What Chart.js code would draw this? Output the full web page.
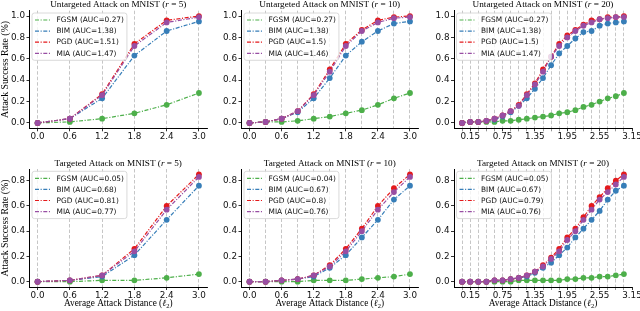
<!DOCTYPE html>
<html>
<head>
<meta charset="utf-8">
<script src="https://cdn.jsdelivr.net/npm/chart.js@4.4.0/dist/chart.umd.min.js"></script>
<style>
  html, body { margin: 0; padding: 0; background: #fff; }
  body { position: relative; width: 640px; height: 311px; overflow: hidden; }
  canvas { position: absolute; }
</style>
</head>
<body>
<canvas id="panel-0"></canvas>
<canvas id="panel-1"></canvas>
<canvas id="panel-2"></canvas>
<canvas id="panel-3"></canvas>
<canvas id="panel-4"></canvas>
<canvas id="panel-5"></canvas>
<script>
// Attack success rate vs. average attack distance on MNIST

const methods = ['FGSM', 'BIM', 'PGD', 'MIA'];
const radii = [5, 10, 20];

// attack distances (x values) for each step count
const distR5 = [0, 0.6, 1.2, 1.8, 2.4, 3.0];
const distR10 = [0, 0.3, 0.6, 0.9, 1.2, 1.5, 1.8, 2.1, 2.4, 2.7, 3.0];
const distR20 = [0, 0.15, 0.3, 0.45, 0.6, 0.75, 0.9, 1.05, 1.2, 1.35, 1.5, 1.65, 1.8,
  1.95, 2.1, 2.25, 2.4, 2.55, 2.7, 2.85, 3.0];

// tick labels
const xTicksR5 = [0, 0.6, 1.2, 1.8, 2.4, 3.0];
const xTicksR10 = [0, 0.6, 1.2, 1.8, 2.4, 3.0];
const xTicksR20 = [0.15, 0.75, 1.35, 1.95, 2.55, 3.15];
const yTicksUntargeted = [0, 0.2, 0.4, 0.6, 0.8, 1.0];
const yTicksTargeted = [0, 0.2, 0.4, 0.6, 0.8];

// success rates, rows in order FGSM, BIM, PGD, MIA
const untargetedR5 = [
  [0, 0.01, 0.04, 0.09, 0.17, 0.28],
  [0, 0.04, 0.23, 0.63, 0.86, 0.95],
  [0, 0.04, 0.27, 0.74, 0.96, 1.0],
  [0, 0.04, 0.26, 0.72, 0.94, 0.99]
];
const untargetedR10 = [
  [0, 0.01, 0.01, 0.02, 0.04, 0.06, 0.09, 0.12, 0.17, 0.23, 0.28],
  [0, 0.01, 0.04, 0.10, 0.23, 0.42, 0.63, 0.76, 0.86, 0.93, 0.95],
  [0, 0.01, 0.04, 0.11, 0.27, 0.50, 0.74, 0.87, 0.96, 0.99, 1.0],
  [0, 0.01, 0.04, 0.11, 0.26, 0.48, 0.72, 0.86, 0.94, 0.98, 0.99]
];
const untargetedR20 = [
  [0, 0.01, 0.01, 0.01, 0.01, 0.02, 0.02, 0.03, 0.04, 0.05, 0.06, 0.07, 0.09, 0.10, 0.12, 0.15, 0.17, 0.20, 0.23, 0.25, 0.28],
  [0, 0.01, 0.01, 0.02, 0.03, 0.06, 0.10, 0.16, 0.23, 0.32, 0.42, 0.54, 0.65, 0.72, 0.79, 0.85, 0.86, 0.91, 0.93, 0.94, 0.95],
  [0, 0.01, 0.01, 0.02, 0.04, 0.07, 0.11, 0.17, 0.27, 0.37, 0.50, 0.62, 0.74, 0.82, 0.87, 0.92, 0.96, 0.97, 0.99, 0.99, 1.0],
  [0, 0.01, 0.01, 0.02, 0.04, 0.07, 0.11, 0.16, 0.26, 0.36, 0.48, 0.62, 0.72, 0.80, 0.86, 0.91, 0.94, 0.97, 0.98, 0.99, 0.99]
];
const targetedR5 = [
  [0, 0.0, 0.01, 0.01, 0.03, 0.06],
  [0, 0.01, 0.04, 0.21, 0.49, 0.76],
  [0, 0.01, 0.05, 0.26, 0.60, 0.85],
  [0, 0.01, 0.05, 0.24, 0.57, 0.83]
];
const targetedR10 = [
  [0, 0, 0, 0, 0.01, 0.01, 0.01, 0.02, 0.03, 0.04, 0.06],
  [0, 0, 0.01, 0.02, 0.04, 0.11, 0.21, 0.35, 0.49, 0.65, 0.76],
  [0, 0, 0.01, 0.02, 0.05, 0.13, 0.26, 0.42, 0.60, 0.74, 0.85],
  [0, 0, 0.01, 0.02, 0.05, 0.12, 0.24, 0.40, 0.57, 0.71, 0.83]
];
const targetedR20 = [
  [0, 0, 0, 0, 0, 0, 0, 0.01, 0.01, 0.01, 0.01, 0.01, 0.01, 0.02, 0.02, 0.03, 0.03, 0.04, 0.04, 0.05, 0.06],
  [0, 0, 0, 0, 0.01, 0.01, 0.02, 0.03, 0.04, 0.07, 0.11, 0.15, 0.21, 0.27, 0.35, 0.42, 0.49, 0.56, 0.65, 0.72, 0.76],
  [0, 0, 0, 0, 0.01, 0.01, 0.02, 0.03, 0.05, 0.08, 0.13, 0.19, 0.26, 0.35, 0.42, 0.51, 0.60, 0.67, 0.74, 0.80, 0.85],
  [0, 0, 0, 0, 0.01, 0.01, 0.02, 0.03, 0.05, 0.08, 0.12, 0.18, 0.24, 0.33, 0.40, 0.49, 0.57, 0.65, 0.71, 0.77, 0.83]
];

// AUC shown in the legends
const untargetedAUC = [[0.27, 1.38, 1.51, 1.47], [0.27, 1.38, 1.5, 1.46], [0.27, 1.38, 1.5, 1.47]];
const targetedAUC = [[0.05, 0.68, 0.81, 0.77], [0.04, 0.67, 0.8, 0.76], [0.05, 0.67, 0.79, 0.76]];

const colors = ['#4daf4a', '#377eb8', '#e41a1c', '#984ea3'];
const SERIF = "'Liberation Serif', 'DejaVu Serif', serif";
const SANS = "'DejaVu Sans', sans-serif";
const DASH_DOT = [4, 1.6, 1.1, 1.6];

// page geometry of the plot areas
const colLeft = [0, 211, 425];
const colWidth = [211, 214, 215];
const areaLeft = [29.5, 241.5, 454];
const areaRight = [207, 418, 632];
const rowTop = [0, 150];
const rowHeight = [150, 161];
const areaTop = [10.7, 169];
const areaBottom = [128.3, 287];

const near = (a, b) => Math.abs(a - b) < 1e-6;

function drawRich(ctx, parts, cx, baseY) {
  let total = 0;
  parts.forEach(p => { ctx.font = p.font; p.w = ctx.measureText(p.t).width; total += p.w; });
  let x = cx - total / 2;
  ctx.textBaseline = 'alphabetic';
  ctx.textAlign = 'left';
  parts.forEach(p => {
    ctx.font = p.font;
    ctx.fillText(p.t, x, baseY + (p.dy || 0));
    x += p.w;
  });
}

// titles, x label and the legend inside the plot
const decorPlugin = {
  id: 'decor',
  afterDraw(chart, args, opts) {
    const ctx = chart.ctx;
    const ca = chart.chartArea;
    const cx = (ca.left + ca.right) / 2;
    ctx.save();
    ctx.fillStyle = '#000';

    const tf = `9.2px ${SERIF}`;
    drawRich(ctx, [
      { t: opts.titleText + ' (', font: tf },
      { t: 'r', font: `italic 9.2px ${SERIF}` },
      { t: ' = ' + opts.radius + ')', font: tf }
    ], cx, opts.titleY);

    if (opts.xTitleY) {
      const xf = `9.3px ${SERIF}`;
      drawRich(ctx, [
        { t: 'Average Attack Distance (', font: xf },
        { t: '\u2113', font: `italic bold 9.3px ${SERIF}` },
        { t: '2', font: `6.5px ${SERIF}`, dy: 1.8 },
        { t: ')', font: xf }
      ], cx, opts.xTitleY);
    }

    // legend box
    ctx.font = `7.4px ${SANS}`;
    const labels = opts.labels;
    const maxW = Math.max(...labels.map(l => ctx.measureText(l).width));
    const bx = ca.left + 2.5, by = ca.top + 2.3;
    const bw = 24.5 + maxW + 3, rowH = 11.1, bh = 14 + rowH * 3;
    ctx.beginPath();
    ctx.roundRect(bx, by, bw, bh, 2.5);
    ctx.fillStyle = 'rgba(255,255,255,0.8)';
    ctx.fill();
    ctx.lineWidth = 0.8;
    ctx.strokeStyle = '#d0d0d0';
    ctx.stroke();
    labels.forEach((l, i) => {
      const y = by + 7 + rowH * i;
      ctx.beginPath();
      ctx.setLineDash(DASH_DOT);
      ctx.strokeStyle = colors[i];
      ctx.lineWidth = 1.2;
      ctx.moveTo(bx + 3, y);
      ctx.lineTo(bx + 18, y);
      ctx.stroke();
      ctx.setLineDash([]);
      ctx.fillStyle = '#111';
      ctx.textBaseline = 'middle';
      ctx.textAlign = 'left';
      ctx.fillText(l, bx + 24.5, y + 0.3);
    });
    ctx.restore();
  }
};

const panels = [
  { row: 0, col: 0, dist: distR5, series: untargetedR5, auc: untargetedAUC[0], xTicks: xTicksR5, yTicks: yTicksUntargeted },
  { row: 0, col: 1, dist: distR10, series: untargetedR10, auc: untargetedAUC[1], xTicks: xTicksR10, yTicks: yTicksUntargeted },
  { row: 0, col: 2, dist: distR20, series: untargetedR20, auc: untargetedAUC[2], xTicks: xTicksR20, yTicks: yTicksUntargeted },
  { row: 1, col: 0, dist: distR5, series: targetedR5, auc: targetedAUC[0], xTicks: xTicksR5, yTicks: yTicksTargeted },
  { row: 1, col: 1, dist: distR10, series: targetedR10, auc: targetedAUC[1], xTicks: xTicksR10, yTicks: yTicksTargeted },
  { row: 1, col: 2, dist: distR20, series: targetedR20, auc: targetedAUC[2], xTicks: xTicksR20, yTicks: yTicksTargeted }
];

panels.forEach((p, idx) => {
  const canvas = document.getElementById('panel-' + idx);
  const w = colWidth[p.col], h = rowHeight[p.row];
  canvas.width = w; canvas.height = h;
  canvas.style.left = colLeft[p.col] + 'px';
  canvas.style.top = rowTop[p.row] + 'px';
  canvas.style.width = w + 'px'; canvas.style.height = h + 'px';

  const yMax = Math.max(...p.series.flat());
  const allX = [...new Set([...p.dist, ...p.xTicks])].sort((a, b) => a - b);
  const isGridX = v => p.dist.some(d => near(d, v));
  const isLabelX = v => p.xTicks.some(d => near(d, v));
  const xDigits = p.col === 2 ? 2 : 1;

  const datasets = p.series.map((vals, i) => ({
    label: `${methods[i]} (AUC=${p.auc[i]})`,
    data: vals.map((v, k) => ({ x: p.dist[k], y: v })),
    borderColor: colors[i],
    backgroundColor: colors[i],
    borderWidth: 1.2,
    borderDash: DASH_DOT,
    pointRadius: 2.9,
    pointBorderWidth: 0,
    pointBackgroundColor: colors[i],
    pointHoverRadius: 2.9,
    tension: 0,
    order: methods.length - i
  }));

  new Chart(canvas, {
    type: 'line',
    data: { datasets },
    plugins: [decorPlugin],
    options: {
      responsive: false,
      animation: false,
      devicePixelRatio: 1,
      layout: {
        padding: {
          top: areaTop[p.row] - rowTop[p.row],
          left: 0,
          right: colLeft[p.col] + w - areaRight[p.col],
          bottom: 0
        }
      },
      plugins: {
        legend: { display: false },
        tooltip: { enabled: false },
        decor: {
          titleText: p.row === 0 ? 'Untargeted Attack on MNIST' : 'Targeted Attack on MNIST',
          radius: radii[p.col],
          titleY: p.row === 0 ? 7 : 15.7,
          xTitleY: p.row === 1 ? 155.7 : null,
          labels: datasets.map(d => d.label)
        }
      },
      scales: {
        x: {
          type: 'linear',
          min: -0.15,
          max: 3.15,
          afterBuildTicks: s => { s.ticks = allX.map(v => ({ value: v })); },
          afterFit: s => {
            s.height = rowTop[p.row] + h - areaBottom[p.row];
            s.paddingLeft = 0; s.paddingRight = 0;
          },
          ticks: {
            autoSkip: false, maxRotation: 0, minRotation: 0, padding: 0.5,
            color: '#111',
            font: { family: SANS, size: 8.8 },
            callback: v => isLabelX(v) ? v.toFixed(xDigits) : ''
          },
          grid: {
            drawOnChartArea: true,
            color: c => (c.tick && isGridX(c.tick.value)) ? '#b8b8b8' : 'rgba(0,0,0,0)',
            lineWidth: 0.8,
            tickLength: 3,
            tickWidth: 0.8,
            tickColor: c => (c.tick && isLabelX(c.tick.value)) ? '#000'
              : (p.col === 2 ? '#777' : 'rgba(0,0,0,0)')
          },
          border: { display: true, color: '#000', width: 1, dash: [3.5, 2] }
        },
        y: {
          type: 'linear',
          min: -0.05 * yMax,
          max: yMax * 1.05,
          afterBuildTicks: s => { s.ticks = p.yTicks.map(v => ({ value: v })); },
          afterFit: s => {
            s.width = areaLeft[p.col] - colLeft[p.col];
            s.paddingTop = 0; s.paddingBottom = 0;
          },
          ticks: {
            padding: 1.5,
            color: '#111',
            font: { family: SANS, size: 8.8 },
            callback: v => v.toFixed(1)
          },
          grid: {
            drawOnChartArea: false,
            tickLength: 3,
            tickWidth: 0.8,
            tickColor: '#000'
          },
          border: { display: true, color: '#000', width: 1 },
          title: {
            display: p.col === 0,
            text: 'Attack Success Rate (%)',
            color: '#000',
            font: { family: SERIF, size: 9.8, lineHeight: 1.2 },
            padding: { top: 0, bottom: 0 }
          }
        }
      }
    }
  });
});
</script>
</body>
</html>
